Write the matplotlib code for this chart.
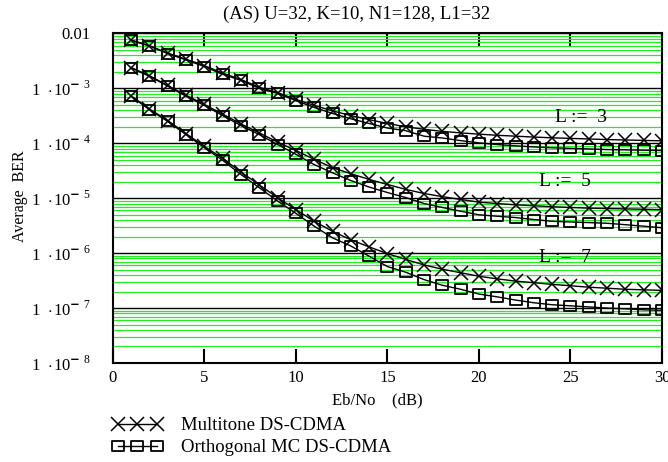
import numpy as np
import matplotlib
matplotlib.use("Agg")
import matplotlib.pyplot as plt
from matplotlib.lines import Line2D
from matplotlib.path import Path
from matplotlib.ticker import LogLocator, NullFormatter

plt.rcParams['font.family'] = 'Liberation Serif'
plt.rcParams['mathtext.fontset'] = 'custom'
plt.rcParams['mathtext.rm'] = 'Liberation Serif'

# Eb/No (dB)
ebno = list(range(1, 31))

# Multitone DS-CDMA (x markers)
mt_L3 = [7.6e-3, 6.0e-3, 4.4e-3, 3.4e-3, 2.6e-3, 1.9e-3, 1.45e-3, 1.05e-3, 8.4e-4, 6.3e-4,
         4.9e-4, 3.9e-4, 3.2e-4, 2.7e-4, 2.3e-4, 2.0e-4, 1.8e-4, 1.65e-4, 1.55e-4, 1.47e-4,
         1.4e-4, 1.35e-4, 1.3e-4, 1.26e-4, 1.23e-4, 1.2e-4, 1.17e-4, 1.15e-4, 1.13e-4, 1.11e-4]
mt_L5 = [2.4e-3, 1.7e-3, 1.13e-3, 7.5e-4, 5.1e-4, 3.4e-4, 2.25e-4, 1.55e-4, 1.05e-4, 7.4e-5,
         5.1e-5, 3.6e-5, 2.8e-5, 2.2e-5, 1.78e-5, 1.45e-5, 1.22e-5, 1.07e-5, 9.5e-6, 8.5e-6,
         8.0e-6, 7.6e-6, 7.3e-6, 7.0e-6, 6.8e-6, 6.6e-6, 6.5e-6, 6.4e-6, 6.3e-6, 6.2e-6]
mt_L7 = [7.3e-4, 4.2e-4, 2.6e-4, 1.5e-4, 8.8e-5, 5.3e-5, 3.0e-5, 1.75e-5, 1.02e-5, 6.2e-6,
         3.8e-6, 2.5e-6, 1.75e-6, 1.3e-6, 9.8e-7, 7.7e-7, 6.1e-7, 5.1e-7, 4.4e-7, 3.8e-7,
         3.4e-7, 3.1e-7, 2.9e-7, 2.7e-7, 2.55e-7, 2.4e-7, 2.3e-7, 2.2e-7, 2.15e-7, 2.1e-7]

# Orthogonal MC DS-CDMA (square markers)
mc_L3 = [7.5e-3, 5.9e-3, 4.3e-3, 3.3e-3, 2.5e-3, 1.8e-3, 1.4e-3, 1.0e-3, 8.1e-4, 6.0e-4,
         4.5e-4, 3.5e-4, 2.8e-4, 2.3e-4, 1.9e-4, 1.7e-4, 1.35e-4, 1.25e-4, 1.12e-4, 1.02e-4,
         9.5e-5, 9.0e-5, 8.6e-5, 8.3e-5, 8.1e-5, 7.9e-5, 7.7e-5, 7.6e-5, 7.5e-5, 7.4e-5]
mc_L5 = [2.37e-3, 1.66e-3, 1.1e-3, 7.2e-4, 4.9e-4, 3.2e-4, 2.1e-4, 1.44e-4, 9.5e-5, 6.3e-5,
         4.1e-5, 2.9e-5, 2.1e-5, 1.6e-5, 1.27e-5, 1.03e-5, 8.0e-6, 6.8e-6, 5.8e-6, 5.0e-6,
         4.7e-6, 4.45e-6, 4.1e-6, 3.8e-6, 3.7e-6, 3.6e-6, 3.5e-6, 3.3e-6, 3.1e-6, 2.9e-6]
mc_L7 = [7.2e-4, 4.1e-4, 2.5e-4, 1.44e-4, 8.3e-5, 4.9e-5, 2.7e-5, 1.55e-5, 8.9e-6, 5.3e-6,
         3.1e-6, 1.9e-6, 1.35e-6, 8.8e-7, 5.7e-7, 4.5e-7, 3.3e-7, 2.6e-7, 2.2e-7, 1.8e-7,
         1.6e-7, 1.4e-7, 1.25e-7, 1.15e-7, 1.1e-7, 1.05e-7, 1.0e-7, 9.7e-8, 9.3e-8, 9.1e-8]

ytick_vals = [1e-2, 1e-3, 1e-4, 1e-5, 1e-6, 1e-7, 1e-8]
ytick_labels = ['0.01'] + [r'$1\ \cdot\!10^{\mathbf{-}\ %d}$' % k for k in range(3, 9)]
xtick_vals = [0, 5, 10, 15, 20, 25, 30]

# Mathcad style box marker, a bit wider than tall
box = Path([(-1, -0.75), (1, -0.75), (1, 0.75), (-1, 0.75), (-1, -0.75)],
           [Path.MOVETO, Path.LINETO, Path.LINETO, Path.LINETO, Path.CLOSEPOLY])

fig = plt.figure(figsize=(6.68, 4.62), dpi=100)
ax = fig.add_axes([0.169, 0.2143, 0.822, 0.7132])
ax.set_yscale('log')
ax.set_xlim(0, 30)
ax.set_ylim(1e-8, 1e-2)

# grid: green minor, black decades
ax.yaxis.set_minor_locator(LogLocator(base=10, subs=np.arange(2, 10)))
ax.yaxis.set_minor_formatter(NullFormatter())
ax.grid(axis='y', which='minor', color='#22ee22', lw=0.9)
ax.grid(axis='y', which='major', color='black', lw=1.0)

for mt, mc in [(mt_L3, mc_L3), (mt_L5, mc_L5), (mt_L7, mc_L7)]:
    ax.plot(ebno, mt, color='black', lw=1.0, marker='x', ms=9.5, mew=1.1)
    ax.plot(ebno, mc, color='black', lw=1.0, marker=box, ms=8.8, mew=1.3, mfc='none')

ax.text(25.6, 2.95e-4, 'L :=  3', fontsize=14, ha='center', va='center')
ax.text(24.7, 2.0e-5, 'L :=  5', fontsize=14, ha='center', va='center')
ax.text(24.7, 8.3e-7, 'L :=  7', fontsize=14, ha='center', va='center')

ax.set_yticks(ytick_vals)
ax.set_yticklabels(ytick_labels, fontsize=12)
ax.tick_params(axis='y', which='both', length=0, pad=16)
ax.set_xticks(xtick_vals)
ax.set_xticklabels([str(v) for v in xtick_vals], fontsize=12)
ax.tick_params(axis='x', direction='in', length=10, width=1.5, top=True, pad=5)
for s in ax.spines.values():
    s.set_linewidth(1.5)

fig.text(357 / 668, 1 - 14 / 462, '(AS) U=32, K=10, N1=128, L1=32',
         fontsize=13.5, ha='center', va='center')
fig.text(377 / 668, 1 - 400 / 462, 'Eb/No    (dB)', fontsize=12, ha='center', va='center')
fig.text(20 / 668, 1 - 196 / 462, 'Average  BER', fontsize=11.5, ha='center', va='center',
         rotation=90)

handles = [Line2D([], [], color='black', lw=1, marker='x', ms=9.5, mew=1.1),
           Line2D([], [], color='black', lw=1, marker=box, ms=8.8, mew=1.3, mfc='none')]
fig.legend(handles, ['Multitone DS-CDMA', 'Orthogonal MC DS-CDMA'],
           loc='upper left', bbox_to_anchor=(112 / 668, 1 - 417 / 462), frameon=False,
           numpoints=3, handlelength=2.7, handletextpad=1.0, fontsize=13.5,
           labelspacing=0.28, borderaxespad=0, borderpad=0)

fig.savefig('out.png', dpi=100)
